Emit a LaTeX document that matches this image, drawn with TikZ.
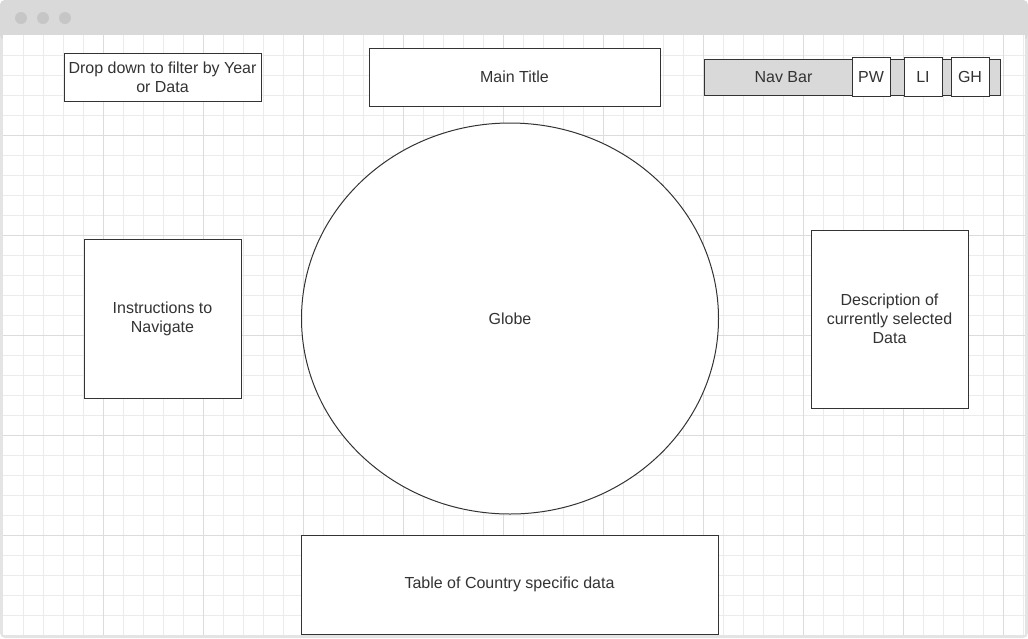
\documentclass[tikz,border=0pt]{standalone}
\usepackage{fontspec}
\setmainfont{Liberation Sans}
\usetikzlibrary{shapes.geometric}
\definecolor{ink}{HTML}{333333}
\definecolor{barfill}{HTML}{D9D9D9}
\definecolor{frame}{HTML}{E4E4E4}
\definecolor{dotfill}{HTML}{C6C6C6}
\definecolor{minorgrid}{HTML}{EBEBEB}
\definecolor{majorgrid}{HTML}{DCDCDC}

\begin{document}
\begin{tikzpicture}[x=1pt,y=-1pt,
    box/.style = {rectangle, draw=ink, line width=1pt, fill=white,
        text=ink, align=center, inner sep=0pt,
        font=\fontsize{16}{19}\selectfont},
    btn/.style = {box, minimum width=38pt, minimum height=39pt}]
\useasboundingbox (0,0) rectangle (1028,638);

% Window frame
\fill[frame,rounded corners=5pt] (0,0) rectangle (1028,638);
\fill[barfill,rounded corners=5pt] (0,0) rectangle (1028,40);
\fill[white] (3,35) rectangle (1025,635);
\foreach \dx in {21,43,65}
    \fill[dotfill] (\dx,18) circle(6pt);

% Grid
\foreach \gx in {23,43,...,1023}
    \draw[minorgrid,line width=1pt] (\gx,35) -- (\gx,635);
\foreach \gy in {55,75,...,615}
    \draw[minorgrid,line width=1pt] (3,\gy) -- (1025,\gy);
\foreach \gx in {103,203,...,1003}
    \draw[majorgrid,line width=1pt] (\gx,35) -- (\gx,635);
\foreach \gy in {135,235,...,535}
    \draw[majorgrid,line width=1pt] (3,\gy) -- (1025,\gy);

% Header
\node[box,minimum width=197pt,minimum height=48pt] (dropdown) at (162.5,77)
    {Drop down to filter by Year\\or Data};
\node[box,minimum width=291pt,minimum height=58pt] (title) at (514.5,77) {Main Title};

% Nav bar
\node[box,fill=barfill,minimum width=296pt,minimum height=36pt] (navbar) at (852,77) {};
\node[text=ink,font=\fontsize{16}{19}\selectfont] (navlabel) at (783.5,77) {Nav Bar};
\node[btn] (pw) at (871,76.5) {PW};
\node[btn] (li) at (923,76.5) {LI};
\node[btn] (gh) at (970,76.5) {GH};

% Globe
\node[box,ellipse,minimum width=417pt,minimum height=391pt] (globe) at (510,318.5) {Globe};

% Side panels
\node[box,minimum width=157pt,minimum height=159pt] (instructions) at (162.5,318.5)
    {Instructions to\\Navigate};
\node[box,minimum width=157pt,minimum height=178pt] (description) at (889.5,319)
    {Description of\\currently selected\\Data};

% Table
\node[box,minimum width=417pt,minimum height=99pt] (table) at (509.5,584.5)
    {Table of Country specific data};
\end{tikzpicture}
\end{document}
